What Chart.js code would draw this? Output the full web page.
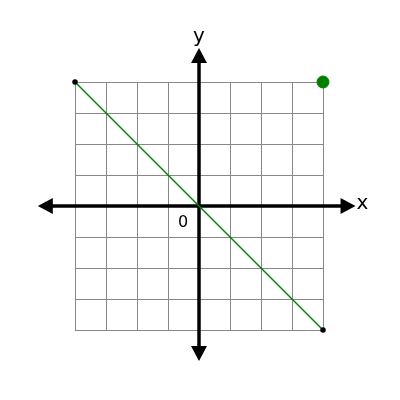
<!DOCTYPE html>
<html>
<head>
<script src="https://cdn.jsdelivr.net/npm/chart.js@4"></script>
<style>body{margin:0;background:#fff}#wrap{width:400px;height:400px}</style>
</head>
<body>
<div id="wrap"><canvas id="c"></canvas></div>
<script>
const lineX = [-4, 4];
const lineY = [4, -4];
const markX = [4];
const markY = [4];
const axisRange = { xMin: -5.2, xMax: 5.05, yMin: -5.0, yMax: 5.1 };

// draws the arrowed axes and labels on top of the grid
const axesPlugin = {
  id: 'axes',
  beforeDatasetsDraw(chart) {
    const ctx = chart.ctx, xs = chart.scales.x, ys = chart.scales.y;
    const ox = xs.getPixelForValue(0), oy = ys.getPixelForValue(0);
    const x0 = xs.getPixelForValue(axisRange.xMin), x1 = xs.getPixelForValue(axisRange.xMax);
    const y0 = ys.getPixelForValue(axisRange.yMin), y1 = ys.getPixelForValue(axisRange.yMax);
    ctx.save();
    ctx.strokeStyle = '#000'; ctx.fillStyle = '#000'; ctx.lineWidth = 3.5;
    ctx.beginPath();
    ctx.moveTo(x0 + 10, oy); ctx.lineTo(x1 - 10, oy);
    ctx.moveTo(ox, y1 + 10); ctx.lineTo(ox, y0 - 10);
    ctx.stroke();
    const head = (tx, ty, dx, dy) => {
      ctx.beginPath();
      ctx.moveTo(tx, ty);
      ctx.lineTo(tx - dx * 15 + dy * 8, ty - dy * 15 + dx * 8);
      ctx.lineTo(tx - dx * 15 - dy * 8, ty - dy * 15 - dx * 8);
      ctx.closePath(); ctx.fill();
    };
    head(x1, oy, 1, 0); head(x0, oy, -1, 0);
    head(ox, y1, 0, -1); head(ox, y0, 0, 1);
    ctx.font = '20px "DejaVu Sans"';
    ctx.textAlign = 'left'; ctx.textBaseline = 'middle';
    ctx.fillText('x', x1 + 1, oy - 2);
    ctx.textAlign = 'center'; ctx.textBaseline = 'bottom';
    ctx.fillText('y', ox, y1 - 1);
    ctx.font = '16px "DejaVu Sans"'; ctx.textBaseline = 'middle';
    ctx.fillText('0', ox - 16, oy + 17);
    ctx.restore();
  }
};

new Chart(document.getElementById('c'), {
  type: 'scatter',
  data: {
    datasets: [
      {
        type: 'line',
        data: lineX.map((x, i) => ({ x, y: lineY[i] })),
        borderColor: 'green', borderWidth: 1.5,
        pointRadius: 2, pointBackgroundColor: '#000', pointBorderColor: '#000',
        clip: false
      },
      {
        data: markX.map((x, i) => ({ x, y: markY[i] })),
        pointRadius: 6, backgroundColor: 'green', borderColor: 'green',
        clip: false
      }
    ]
  },
  options: {
    responsive: true, maintainAspectRatio: false, animation: false,
    layout: { padding: { left: 75, right: 77, top: 82, bottom: 70 } },
    plugins: { legend: { display: false }, tooltip: { enabled: false } },
    scales: {
      x: { min: -4, max: 4, ticks: { display: false, stepSize: 1 }, border: { display: false },
           grid: { color: '#888', drawTicks: false } },
      y: { min: -4, max: 4, ticks: { display: false, stepSize: 1 }, border: { display: false },
           grid: { color: '#888', drawTicks: false } }
    }
  },
  plugins: [axesPlugin]
});
</script>
</body>
</html>
